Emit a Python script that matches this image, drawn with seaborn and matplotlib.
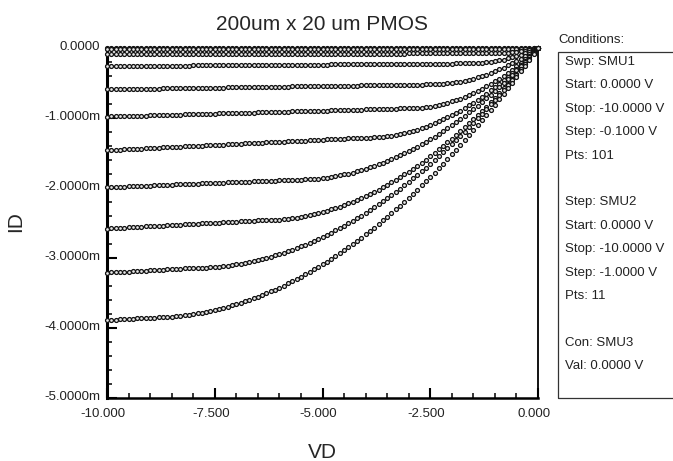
import numpy as np
import pandas as pd
import matplotlib
matplotlib.use('Agg')
import matplotlib.pyplot as plt
import matplotlib.transforms as mtransforms
from matplotlib.ticker import MultipleLocator, FuncFormatter
from matplotlib.patches import Rectangle
import seaborn as sns

# SMU1 sweep (drain), as listed in the conditions box
vd_start, vd_stop, vd_pts = 0.0, -10.0, 101
vd = np.linspace(vd_start, vd_stop, vd_pts)

# SMU2 gate steps
gate_steps = [0, -1, -2, -3, -4, -5, -6, -7, -8, -9, -10]

# |ID| in mA, one point per 0.1 V of VD (VD = 0 ... -10)
id_vg0 = [0.0] * 101
id_vg1 = [0, .005, .010, .013, .014, .015, .015, .015, .015, .015,
          .015, .015, .015, .015, .015, .016, .016, .016, .016, .016,
          .016, .016, .016, .016, .016, .016, .016, .016, .016, .016,
          .016, .016, .016, .016, .017, .017, .017, .017, .017, .017,
          .017, .017, .017, .017, .017, .017, .017, .017, .017, .017,
          .017, .017, .017, .018, .018, .018, .018, .018, .018, .018,
          .018, .018, .018, .018, .018, .018, .018, .018, .018, .018,
          .018, .018, .019, .019, .019, .019, .019, .019, .019, .019,
          .019, .019, .019, .019, .019, .019, .019, .019, .019, .019,
          .019, .020, .020, .020, .020, .020, .020, .020, .020, .020,
          .020]
id_vg2 = [0, .014, .027, .038, .048, .056, .063, .068, .072, .074,
          .075, .075, .075, .076, .076, .076, .076, .076, .076, .077,
          .077, .077, .077, .077, .077, .078, .078, .078, .078, .078,
          .078, .079, .079, .079, .079, .079, .079, .080, .080, .080,
          .080, .080, .080, .081, .081, .081, .081, .081, .081, .082,
          .082, .082, .082, .082, .082, .083, .083, .083, .083, .083,
          .083, .084, .084, .084, .084, .084, .084, .085, .085, .085,
          .085, .085, .085, .086, .086, .086, .086, .086, .086, .087,
          .087, .087, .087, .087, .087, .088, .088, .088, .088, .088,
          .088, .089, .089, .089, .089, .089, .089, .090, .090, .090,
          .090]
id_vg3 = [0, .027, .052, .075, .096, .116, .134, .150, .165, .178,
          .189, .199, .206, .212, .217, .219, .220, .220, .221, .221,
          .222, .222, .223, .223, .224, .224, .225, .225, .226, .226,
          .227, .227, .228, .228, .229, .229, .230, .230, .230, .231,
          .231, .232, .232, .233, .233, .234, .234, .235, .235, .236,
          .236, .237, .237, .238, .238, .239, .239, .240, .240, .240,
          .241, .241, .242, .242, .243, .243, .244, .244, .245, .245,
          .246, .246, .247, .247, .248, .248, .249, .249, .250, .250,
          .250, .251, .251, .252, .252, .253, .253, .254, .254, .255,
          .255, .256, .256, .257, .257, .258, .258, .259, .259, .260,
          .260]
id_vg4 = [0, .041, .080, .117, .153, .187, .220, .250, .280, .307,
          .333, .357, .379, .400, .419, .437, .453, .467, .479, .490,
          .499, .507, .513, .517, .519, .520, .521, .522, .523, .524,
          .525, .526, .527, .528, .528, .529, .530, .531, .532, .533,
          .534, .535, .536, .537, .538, .539, .540, .541, .541, .542,
          .543, .544, .545, .546, .547, .548, .549, .550, .551, .552,
          .553, .554, .555, .555, .556, .557, .558, .559, .560, .561,
          .562, .563, .564, .565, .566, .567, .567, .569, .569, .570,
          .571, .572, .573, .574, .575, .576, .577, .578, .579, .580,
          .581, .582, .583, .583, .584, .585, .586, .587, .588, .589,
          .590]
id_vg5 = [0, .056, .111, .163, .214, .263, .310, .355, .398, .439,
          .478, .515, .550, .584, .615, .645, .673, .699, .722, .744,
          .764, .783, .799, .813, .826, .836, .845, .851, .856, .859,
          .860, .862, .863, .865, .867, .869, .870, .872, .874, .875,
          .877, .879, .881, .882, .884, .886, .887, .889, .891, .893,
          .894, .896, .898, .899, .901, .903, .905, .906, .908, .910,
          .911, .913, .915, .917, .918, .920, .922, .923, .925, .927,
          .929, .930, .932, .934, .935, .937, .939, .941, .942, .944,
          .946, .947, .949, .951, .953, .954, .956, .958, .959, .961,
          .963, .965, .966, .968, .970, .971, .973, .975, .977, .978,
          .980]
id_vg6 = [0, .063, .125, .185, .243, .300, .355, .409, .461, .511,
          .560, .607, .653, .697, .739, .780, .819, .857, .893, .927,
          .960, .991, 1.021, 1.049, 1.075, 1.100, 1.123, 1.145, 1.165, 1.183,
          1.200, 1.215, 1.229, 1.241, 1.251, 1.260, 1.267, 1.273, 1.277, 1.279,
          1.280, 1.283, 1.286, 1.289, 1.292, 1.295, 1.298, 1.301, 1.304, 1.307,
          1.310, 1.313, 1.316, 1.319, 1.322, 1.325, 1.328, 1.331, 1.334, 1.337,
          1.340, 1.343, 1.346, 1.349, 1.352, 1.355, 1.358, 1.361, 1.364, 1.367,
          1.370, 1.373, 1.376, 1.379, 1.382, 1.385, 1.388, 1.391, 1.394, 1.397,
          1.400, 1.403, 1.406, 1.409, 1.412, 1.415, 1.418, 1.421, 1.424, 1.427,
          1.430, 1.433, 1.436, 1.439, 1.442, 1.445, 1.448, 1.451, 1.454, 1.457,
          1.460]
id_vg7 = [0, .067, .132, .196, .259, .321, .381, .441, .499, .556,
          .611, .666, .719, .772, .823, .872, .921, .968, 1.014, 1.059,
          1.103, 1.146, 1.187, 1.227, 1.266, 1.304, 1.340, 1.376, 1.410, 1.443,
          1.475, 1.505, 1.535, 1.563, 1.590, 1.616, 1.640, 1.664, 1.686, 1.707,
          1.727, 1.745, 1.763, 1.779, 1.794, 1.807, 1.820, 1.831, 1.842, 1.851,
          1.858, 1.865, 1.870, 1.875, 1.878, 1.879, 1.880, 1.883, 1.885, 1.888,
          1.890, 1.893, 1.895, 1.898, 1.900, 1.903, 1.905, 1.908, 1.910, 1.913,
          1.915, 1.918, 1.920, 1.923, 1.925, 1.928, 1.930, 1.933, 1.935, 1.938,
          1.940, 1.943, 1.945, 1.948, 1.950, 1.953, 1.955, 1.958, 1.960, 1.963,
          1.965, 1.968, 1.970, 1.973, 1.975, 1.978, 1.980, 1.983, 1.985, 1.988,
          1.990]
id_vg8 = [0, .076, .151, .225, .298, .369, .440, .509, .577, .643,
          .709, .773, .836, .898, .959, 1.018, 1.076, 1.133, 1.189, 1.244,
          1.297, 1.350, 1.401, 1.450, 1.499, 1.547, 1.593, 1.638, 1.682, 1.724,
          1.766, 1.806, 1.845, 1.883, 1.919, 1.955, 1.989, 2.022, 2.054, 2.085,
          2.114, 2.142, 2.169, 2.195, 2.220, 2.243, 2.265, 2.286, 2.306, 2.325,
          2.342, 2.359, 2.374, 2.387, 2.400, 2.411, 2.422, 2.431, 2.438, 2.445,
          2.450, 2.455, 2.458, 2.459, 2.460, 2.463, 2.467, 2.470, 2.473, 2.477,
          2.480, 2.483, 2.487, 2.490, 2.493, 2.497, 2.500, 2.503, 2.507, 2.510,
          2.513, 2.517, 2.520, 2.523, 2.527, 2.530, 2.533, 2.537, 2.540, 2.543,
          2.547, 2.550, 2.553, 2.557, 2.560, 2.563, 2.567, 2.570, 2.573, 2.577,
          2.580]
id_vg9 = [0, .078, .155, .231, .306, .380, .453, .525, .597, .667,
          .736, .804, .871, .938, 1.003, 1.067, 1.130, 1.193, 1.254, 1.314,
          1.374, 1.432, 1.490, 1.546, 1.601, 1.656, 1.709, 1.762, 1.813, 1.864,
          1.913, 1.962, 2.010, 2.056, 2.102, 2.146, 2.190, 2.233, 2.275, 2.315,
          2.355, 2.394, 2.432, 2.468, 2.504, 2.539, 2.573, 2.606, 2.638, 2.669,
          2.698, 2.727, 2.755, 2.782, 2.808, 2.833, 2.857, 2.880, 2.903, 2.924,
          2.944, 2.963, 2.981, 2.998, 3.014, 3.030, 3.044, 3.057, 3.069, 3.081,
          3.091, 3.100, 3.109, 3.116, 3.122, 3.128, 3.132, 3.136, 3.138, 3.140,
          3.140, 3.144, 3.147, 3.151, 3.154, 3.158, 3.161, 3.165, 3.168, 3.172,
          3.175, 3.179, 3.182, 3.186, 3.189, 3.193, 3.196, 3.200, 3.203, 3.207,
          3.210]
id_vg10 = [0, .085, .169, .252, .335, .416, .496, .576, .654, .732,
           .808, .884, .958, 1.032, 1.105, 1.176, 1.247, 1.317, 1.386, 1.454,
           1.521, 1.587, 1.652, 1.716, 1.780, 1.842, 1.903, 1.964, 2.023, 2.081,
           2.139, 2.195, 2.251, 2.306, 2.359, 2.412, 2.464, 2.515, 2.565, 2.614,
           2.662, 2.709, 2.755, 2.800, 2.844, 2.888, 2.930, 2.971, 3.012, 3.051,
           3.090, 3.127, 3.164, 3.199, 3.234, 3.268, 3.301, 3.332, 3.363, 3.393,
           3.422, 3.450, 3.477, 3.504, 3.529, 3.553, 3.576, 3.599, 3.620, 3.640,
           3.660, 3.678, 3.696, 3.713, 3.728, 3.743, 3.757, 3.770, 3.782, 3.792,
           3.802, 3.812, 3.820, 3.827, 3.833, 3.838, 3.842, 3.846, 3.848, 3.850,
           3.850, 3.854, 3.858, 3.862, 3.866, 3.870, 3.874, 3.878, 3.882, 3.886,
           3.890]

curves = [id_vg0, id_vg1, id_vg2, id_vg3, id_vg4, id_vg5,
          id_vg6, id_vg7, id_vg8, id_vg9, id_vg10]

condition_lines = ['Swp: SMU1', 'Start: 0.0000 V', 'Stop: -10.0000 V', 'Step: -0.1000 V', 'Pts: 101', '',
                   'Step: SMU2', 'Start: 0.0000 V', 'Stop: -10.0000 V', 'Step: -1.0000 V', 'Pts: 11', '',
                   'Con: SMU3', 'Val: 0.0000 V']

# long table: PMOS current is negative
frames = []
for vg, mag in zip(gate_steps, curves):
    frames.append(pd.DataFrame({'VD': vd, 'ID': -np.array(mag), 'VG': vg}))
df = pd.concat(frames, ignore_index=True)

sns.set_style('white')
plt.rcParams['font.family'] = ['Liberation Sans', 'DejaVu Sans']

W, H = 673, 461
fig = plt.figure(figsize=(W / 100, H / 100), dpi=100)
ax = fig.add_axes([107 / W, 1 - 398 / H, (538 - 107) / W, (398 - 48) / H])

sns.scatterplot(data=df, x='VD', y='ID', ax=ax, marker='o', s=8,
                facecolor='#e8e8e8', edgecolor='#111111', linewidth=0.9,
                legend=False, clip_on=False, zorder=3)

ax.set_xlim(-10, 0)
ax.set_ylim(-5, 0)
ax.xaxis.set_major_locator(MultipleLocator(2.5))
ax.xaxis.set_minor_locator(MultipleLocator(0.5))
ax.yaxis.set_major_locator(MultipleLocator(1))
ax.yaxis.set_minor_locator(MultipleLocator(0.2))
ax.xaxis.set_major_formatter(FuncFormatter(lambda v, p: f"{abs(v):.3f}" if abs(v) < 1e-9 else f"{v:.3f}"))
ax.yaxis.set_major_formatter(FuncFormatter(lambda v, p: "0.0000" if abs(v) < 1e-9 else f"{v:.4f}m"))

# ticks point inward, only on the left and bottom axes
ax.tick_params(which='both', direction='in', left=True, bottom=True, top=False, right=False,
               colors='black')
ax.tick_params(which='major', length=7.2, width=1.5, labelcolor='#222222', labelsize=9.5)
ax.tick_params(which='minor', length=3.6, width=1.1)
ax.tick_params(axis='x', which='major', pad=7)
ax.tick_params(axis='y', which='major', pad=5)

ax.set_xlabel('')
ax.set_ylabel('')

for side, lw in [('left', 2.2), ('bottom', 1.8), ('right', 1.3)]:
    ax.spines[side].set_visible(True)
    ax.spines[side].set_linewidth(lw)
    ax.spines[side].set_color('black')
ax.spines['top'].set_visible(False)

# nudge tick labels like the instrument software draws them
dx = mtransforms.ScaledTranslation(-4 / 100, 0, fig.dpi_scale_trans)
for t in ax.xaxis.get_major_ticks():
    t.label1.set_transform(t.label1.get_transform() + dx)
dy = mtransforms.ScaledTranslation(0, 3 / 100, fig.dpi_scale_trans)
for t in ax.yaxis.get_major_ticks():
    t.label1.set_transform(t.label1.get_transform() + dy)

fig.text(322.5 / W, 1 - 30 / H, '200um x 20 um PMOS', ha='center', va='baseline', fontsize=15)
fig.text(322.5 / W, 1 - 458 / H, 'VD', ha='center', va='baseline', fontsize=15)
fig.text(15.5 / W, 1 - 222 / H, 'ID', ha='center', va='center', rotation=90, fontsize=15)

# conditions panel
fig.text(558 / W, 1 - 43 / H, 'Conditions:', ha='left', va='baseline', fontsize=9.5, color='#222222')
fig.add_artist(Rectangle((558 / W, 1 - 398 / H), 140 / W, (398 - 52) / H,
                         transform=fig.transFigure, fill=False, edgecolor='#333333',
                         linewidth=0.9, clip_on=False))
for i, line in enumerate(condition_lines):
    if line:
        fig.text(565 / W, 1 - (65 + 23.4 * i) / H, line, ha='left', va='baseline',
                 fontsize=9.5, color='#222222')

plt.savefig('out.png', dpi=100)
